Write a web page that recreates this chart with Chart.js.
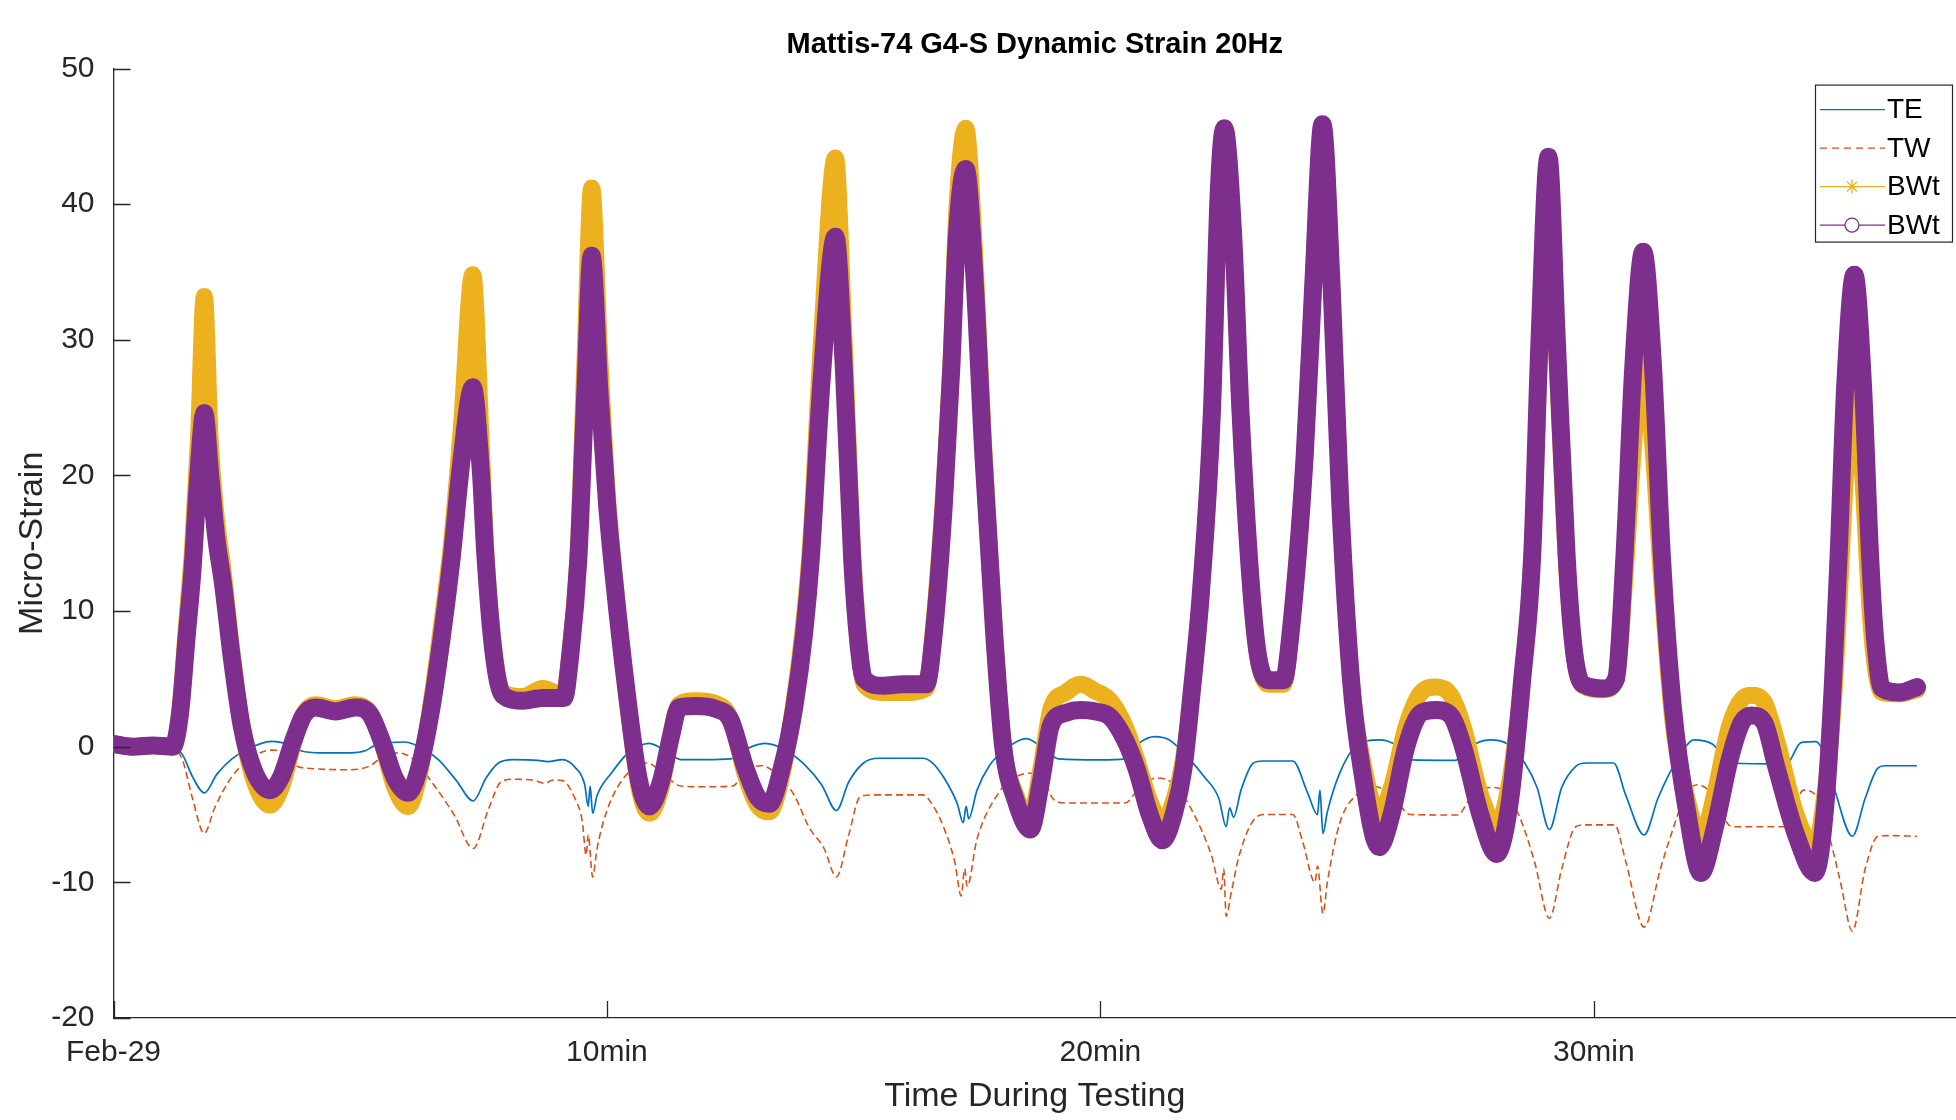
<!DOCTYPE html>
<html>
<head>
<meta charset="utf-8">
<title>Mattis-74 G4-S Dynamic Strain 20Hz</title>
<script src="https://cdn.jsdelivr.net/npm/chart.js@4.4.1/dist/chart.umd.min.js"></script>
<style>
    html, body { margin: 0; padding: 0; background: #fff; }
    #wrap { width: 1956px; height: 1120px; position: relative; }
</style>
</head>
<body>
<div id="wrap"><canvas id="strainChart"></canvas></div>
<script>
// --- datos (tiempo en minutos) ---
const xTickValues = [0, 10, 20, 30];
const xTickLabels = ['Feb-29', '10min', '20min', '30min'];
const seriesNames = ['TE', 'TW', 'BWt', 'BWt'];

const teTime = [0, 1.2, 1.4, 1.6, 1.84, 2.1, 2.4, 2.7, 3.2, 3.6, 3.8, 4.2, 4.8, 5.1, 5.3, 5.9, 6.3, 6.6, 6.95, 7.29,
    7.55, 7.8, 8.1, 8.6, 8.8, 9.1, 9.35, 9.55, 9.62, 9.66, 9.71, 9.8, 10.1, 10.42, 10.86, 11.3, 11.5, 12.0, 12.5, 12.8,
    13.2, 13.6, 14.0, 14.35, 14.65, 14.9, 15.2, 15.5, 16.4, 16.6, 16.85, 17.1, 17.22, 17.28, 17.33, 17.5, 17.75, 18.1, 18.5, 18.9,
    19.15, 20.0, 20.5, 20.8, 21.1, 21.4, 21.8, 22.1, 22.4, 22.55, 22.62, 22.7, 22.85, 23.1, 23.3, 23.9, 24.2, 24.4, 24.45, 24.51,
    24.6, 24.85, 25.2, 25.65, 26.0, 26.3, 27.2, 27.45, 27.9, 28.25, 28.6, 28.85, 29.1, 29.35, 29.63, 29.85, 30.4, 30.65, 31.02, 31.3,
    31.5, 31.75, 32.02, 32.4, 32.8, 33.9, 34.2, 34.5, 34.7, 34.9, 35.24, 35.5, 35.75, 35.9, 36.55];
const teVals = [0.0, 0.0, -0.6, -2.2, -3.4, -2.0, -0.9, -0.2, 0.4, 0.1, -0.3, -0.45, -0.45, -0.3, 0.1, 0.35, -0.2, -1.0, -2.5, -4.0,
    -2.3, -1.2, -0.95, -1.0, -1.1, -0.95, -1.5, -2.8, -4.4, -2.9, -4.9, -3.6, -1.9, -0.5, 0.25, -0.6, -0.95, -0.95, -0.9, -0.2,
    0.25, -0.2, -1.3, -2.8, -4.7, -2.6, -1.2, -0.85, -0.85, -1.2, -2.4, -4.2, -5.6, -4.4, -5.3, -3.2, -1.4, -0.1, 0.6, -0.3,
    -0.9, -0.97, -0.9, 0.3, 0.75, 0.5, -0.9, -2.2, -3.8, -5.9, -4.5, -5.2, -3.2, -1.2, -1.05, -1.05, -3.4, -5.0, -3.2, -6.4,
    -4.8, -1.95, 0.1, 0.5, 0.1, -0.97, -1.0, -0.1, 0.5, 0.2, -1.2, -3.0, -6.1, -3.0, -1.46, -1.2, -1.2, -3.6, -6.5, -3.8,
    -2.2, -0.6, 0.5, 0.2, -1.2, -1.27, 0.3, 0.38, -0.8, -3.4, -6.6, -3.8, -1.6, -1.4, -1.4];

const twTime = [0, 1.2, 1.4, 1.6, 1.84, 2.05, 2.4, 2.8, 3.2, 3.5, 3.7, 4.0, 4.8, 5.2, 5.5, 5.77, 6.1, 6.41, 6.9, 7.29,
    7.6, 7.85, 8.1, 8.5, 8.75, 8.9, 9.1, 9.35, 9.5, 9.58, 9.62, 9.71, 9.8, 10.0, 10.42, 10.82, 11.2, 11.5, 12.0, 12.55,
    12.8, 13.13, 13.5, 13.8, 14.09, 14.4, 14.65, 14.9, 15.13, 15.4, 16.4, 16.6, 16.82, 17.05, 17.18, 17.25, 17.3, 17.5, 17.94, 18.25,
    18.58, 18.85, 19.06, 19.3, 20.5, 20.8, 21.14, 21.5, 21.9, 22.25, 22.45, 22.5, 22.55, 22.65, 22.8, 23.07, 23.3, 23.9, 24.1, 24.35,
    24.4, 24.51, 24.6, 24.85, 25.2, 25.5, 25.9, 26.28, 27.24, 27.5, 27.9, 28.2, 28.5, 28.8, 29.1, 29.35, 29.63, 29.8, 30.42, 30.65,
    31.02, 31.35, 31.62, 31.85, 32.1, 32.4, 32.8, 33.9, 34.25, 34.5, 34.8, 35.0, 35.24, 35.5, 35.76, 36.0, 36.55];
const twVals = [-0.1, -0.1, -1.0, -3.8, -6.4, -4.5, -2.2, -0.8, -0.25, -0.5, -1.4, -1.6, -1.7, -1.4, -0.6, -0.45, -1.0, -2.4, -5.0, -7.5,
    -4.6, -2.6, -2.4, -2.45, -2.7, -2.45, -2.5, -3.8, -5.5, -8.0, -6.5, -9.6, -7.5, -4.7, -1.95, -1.2, -2.2, -2.9, -2.95, -2.9,
    -1.8, -1.4, -2.2, -3.6, -5.9, -7.5, -9.6, -6.5, -3.7, -3.55, -3.55, -4.3, -5.9, -8.5, -11.0, -9.0, -10.3, -6.8, -3.4, -2.3,
    -1.95, -2.6, -3.9, -4.15, -4.15, -3.0, -2.3, -2.8, -5.0, -8.0, -10.5, -9.0, -12.5, -10.8, -8.2, -5.6, -5.0, -5.0, -7.0, -10.0,
    -8.8, -12.3, -10.0, -5.64, -3.5, -2.9, -3.5, -5.0, -5.03, -3.8, -3.0, -3.3, -5.2, -8.5, -12.65, -9.0, -5.9, -5.76, -5.76, -8.5,
    -13.3, -9.0, -5.9, -3.6, -2.8, -3.5, -5.9, -5.9, -3.2, -3.6, -7.0, -10.0, -13.6, -9.0, -6.6, -6.55, -6.6];

const bwTime = [0, 0.4, 0.8, 1.2, 1.35, 1.48, 1.6, 1.72, 1.84, 1.96, 2.08, 2.22, 2.4, 2.6, 2.85, 3.17, 3.4, 3.65, 3.85, 4.1,
    4.5, 4.9, 5.2, 5.45, 5.7, 5.97, 6.2, 6.45, 6.65, 6.85, 7.05, 7.28, 7.45, 7.53, 7.7, 7.89, 8.3, 8.7, 9.13, 9.25,
    9.42, 9.55, 9.69, 9.85, 10.0, 10.14, 10.4, 10.65, 10.86, 11.1, 11.3, 11.46, 11.8, 12.2, 12.5, 12.8, 13.05, 13.29, 13.55, 13.8,
    14.0, 14.13, 14.35, 14.63, 14.8, 14.97, 15.1, 15.21, 15.6, 16.0, 16.47, 16.62, 16.83, 16.98, 17.09, 17.27, 17.45, 17.63, 17.85, 18.03,
    18.28, 18.58, 18.8, 19.0, 19.3, 19.6, 19.9, 20.2, 20.5, 20.74, 21.0, 21.26, 21.5, 21.68, 21.85, 22.04, 22.26, 22.4, 22.51, 22.69,
    22.84, 23.06, 23.2, 23.42, 23.71, 23.85, 24.14, 24.32, 24.5, 24.68, 24.86, 25.08, 25.3, 25.65, 25.9, 26.2, 26.5, 26.8, 27.1, 27.35,
    27.7, 28.03, 28.3, 28.55, 28.75, 28.9, 29.08, 29.25, 29.45, 29.6, 29.78, 30.2, 30.45, 30.62, 30.8, 31.0, 31.2, 31.38, 31.6, 31.9,
    32.17, 32.45, 32.75, 33.0, 33.2, 33.45, 33.7, 34.1, 34.48, 34.7, 34.85, 34.96, 35.1, 35.28, 35.45, 35.6, 35.7, 35.84, 36.2, 36.55];
// BWt (asteriscos, amarillo)
const bwtStar = [0.2, 0.0, 0.1, 0.0, 2.8, 9, 14.5, 22.5, 33.2, 22.5, 17, 13, 7, 1.5, -2.5, -4.3, -3, 0.3, 2.4, 3.1,
    2.8, 3.1, 2.5, 0.2, -3, -4.4, -2, 3.5, 9, 15, 23.5, 34.8, 22.5, 15.5, 7.5, 4, 3.7, 4.3, 3.8, 7,
    14.5, 28, 41.2, 29, 19, 13, 4, -3, -4.9, -3, 1, 3.1, 3.4, 3.2, 2.1, -2, -4.3, -4.8, -2, 3.5,
    9.5, 15, 30, 43.4, 30.5, 15, 8, 4.6, 4.0, 4.0, 4.3, 8.8, 19, 29, 39.5, 45.6, 36.5, 22.5, 8.5, 0.2,
    -3.5, -5.2, -1.5, 2.8, 4.0, 4.6, 4.1, 3.4, 1.5, -1, -4, -5.6, -3.8, -1, 4, 11.5, 24.5, 40.5, 45, 37.5,
    24.5, 11.5, 6.5, 4.6, 4.6, 8.2, 21.4, 34.5, 45.5, 34.5, 18.1, 4.9, -0.8, -5, -3, 1.5, 4, 4.4, 3.8, 1.5,
    -3.5, -5.8, -2.5, 5, 14, 29, 42.5, 29, 13.5, 7, 4.5, 4.2, 5, 12, 22, 29.5, 22, 12, 2, -4,
    -6.8, -3.5, 1.5, 3.5, 3.8, 3.3, 0.5, -5, -7.4, -3, 3, 10, 20, 28, 20, 10, 6, 4, 3.9, 4.2];
// BWt (círculos, morado)
const bwtCircle = [0.2, 0.0, 0.1, 0.0, 2.5, 8, 13, 20, 24.6, 20, 15.5, 12, 6.5, 1.5, -1.8, -3.2, -2.2, 0.5, 2.3, 2.9,
    2.6, 2.9, 2.4, 0.3, -2.3, -3.4, -1.5, 3, 8, 13.8, 21, 26.5, 20, 14.5, 7, 3.8, 3.4, 3.6, 3.6, 6.5,
    13.8, 25, 36.2, 26, 18, 12.5, 4, -2.5, -4.4, -2.5, 0.8, 2.9, 3.0, 2.8, 2.0, -1.5, -3.7, -4.2, -1.5, 3,
    8.5, 13.8, 27, 37.6, 28, 13.8, 7.5, 5.0, 4.5, 4.6, 4.6, 8.2, 18, 28, 37.5, 42.6, 34.5, 21.4, 8.2, 0,
    -3.9, -6.1, -2.5, 1.6, 2.5, 2.7, 2.6, 2.2, 0.5, -1.7, -5, -6.9, -4.8, -1.7, 4, 11.5, 24.7, 41, 45.6, 37.8,
    24.7, 11.5, 6.6, 4.9, 4.9, 8.2, 21.4, 34.5, 45.9, 34.5, 18.1, 4.9, -1.7, -7.4, -5, 0, 2.5, 2.7, 2.3, 0,
    -5, -7.9, -4, 5, 14, 30, 43.5, 30, 14, 7, 4.6, 4.3, 5, 14, 28, 36.5, 28, 14, 3, -5,
    -9.3, -6, -1, 1.8, 2.3, 1.8, -1.5, -6.5, -9.3, -4, 5, 14, 27, 34.8, 27, 14, 8, 4.3, 4.0, 4.4];

const colors = ['#0072BD', '#D95319', '#EDB120', '#7E2F8E'];
const axisColor = '#262626';

Chart.defaults.font.family = '"Liberation Sans", Arial, Helvetica, sans-serif';

function toPoints(times, vals) {
    return times.map((t, i) => ({ x: t, y: vals[i] }));
}

// marcas de los ejes hacia dentro (estilo MATLAB)
const innerTicks = {
    id: 'innerTicks',
    afterDatasetsDraw(chart) {
        const { ctx, chartArea, scales: { x, y } } = chart;
        ctx.save();
        ctx.strokeStyle = axisColor;
        ctx.lineWidth = 1.3;
        ctx.beginPath();
        y.ticks.forEach(t => {
            const py = Math.round(y.getPixelForValue(t.value)) + 0.5;
            ctx.moveTo(chartArea.left, py);
            ctx.lineTo(chartArea.left + 17, py);
        });
        x.ticks.forEach(t => {
            const px = Math.round(x.getPixelForValue(t.value)) + 0.5;
            ctx.moveTo(px, chartArea.bottom);
            ctx.lineTo(px, chartArea.bottom - 17);
        });
        ctx.stroke();
        ctx.restore();
    }
};

// leyenda con recuadro dentro del área del gráfico
const boxLegend = {
    id: 'boxLegend',
    afterDraw(chart) {
        const { ctx, chartArea } = chart;
        const w = 137, h = 157;
        const left = chartArea.right - w - 4;
        const top = chartArea.top + 16;
        ctx.save();
        ctx.fillStyle = '#fff';
        ctx.fillRect(left, top, w, h);
        ctx.strokeStyle = axisColor;
        ctx.lineWidth = 1.2;
        ctx.strokeRect(left + 0.5, top + 0.5, w, h);
        ctx.font = '28px "Liberation Sans", Arial, sans-serif';
        ctx.textBaseline = 'middle';
        seriesNames.forEach((name, i) => {
            const cy = top + 25 + i * 38.5;
            const x0 = left + 5, x1 = left + 70, mx = left + 37;
            ctx.strokeStyle = colors[i];
            ctx.lineWidth = 1.3;
            ctx.setLineDash(i === 1 ? [7, 5] : []);
            ctx.beginPath();
            ctx.moveTo(x0, cy);
            ctx.lineTo(x1, cy);
            ctx.stroke();
            ctx.setLineDash([]);
            if (i === 2) {
                ctx.beginPath();
                for (let k = 0; k < 4; k++) {
                    const a = k * Math.PI / 4;
                    ctx.moveTo(mx - 7 * Math.cos(a), cy - 7 * Math.sin(a));
                    ctx.lineTo(mx + 7 * Math.cos(a), cy + 7 * Math.sin(a));
                }
                ctx.stroke();
            } else if (i === 3) {
                ctx.beginPath();
                ctx.arc(mx, cy, 7, 0, Math.PI * 2);
                ctx.fillStyle = '#fff';
                ctx.fill();
                ctx.stroke();
            }
            ctx.fillStyle = '#000';
            ctx.fillText(name, left + 72, cy + 1);
        });
        ctx.restore();
    }
};

const ctx = document.getElementById('strainChart');

new Chart(ctx, {
    type: 'line',
    data: {
        datasets: [
            {
                label: seriesNames[0],
                data: toPoints(teTime, teVals),
                borderColor: colors[0],
                borderWidth: 1.7,
                pointRadius: 0,
                cubicInterpolationMode: 'monotone',
                order: 4
            },
            {
                label: seriesNames[1],
                data: toPoints(twTime, twVals),
                borderColor: colors[1],
                borderWidth: 1.6,
                borderDash: [7, 4],
                pointRadius: 0,
                cubicInterpolationMode: 'monotone',
                order: 3
            },
            {
                label: seriesNames[2],
                data: toPoints(bwTime, bwtStar),
                borderColor: colors[2],
                borderWidth: 17,
                borderJoinStyle: 'round',
                borderCapStyle: 'round',
                pointRadius: 0,
                cubicInterpolationMode: 'monotone',
                order: 2
            },
            {
                label: seriesNames[3],
                data: toPoints(bwTime, bwtCircle),
                borderColor: colors[3],
                borderWidth: 18,
                borderJoinStyle: 'round',
                borderCapStyle: 'round',
                pointRadius: 0,
                cubicInterpolationMode: 'monotone',
                order: 1
            }
        ]
    },
    options: {
        responsive: true,
        maintainAspectRatio: false,
        animation: false,
        layout: { padding: 0 },
        plugins: {
            legend: { display: false },
            tooltip: { enabled: false },
            title: {
                display: true,
                text: 'Mattis-74 G4-S Dynamic Strain 20Hz',
                fullSize: false,
                color: '#000',
                font: { size: 29, weight: 'bold' },
                padding: { top: 28, bottom: 5.8 }
            }
        },
        scales: {
            x: {
                type: 'linear',
                min: 0,
                max: 37.34,
                afterBuildTicks(axis) { axis.ticks = xTickValues.map(v => ({ value: v })); },
                afterFit(axis) { axis.height = 102; },
                ticks: {
                    autoSkip: false,
                    maxRotation: 0,
                    padding: 9,
                    color: axisColor,
                    font: { size: 30 },
                    callback: (value, index) => xTickLabels[index]
                },
                grid: { display: false },
                border: { display: true, color: axisColor, width: 1.3 },
                title: {
                    display: true,
                    text: 'Time During Testing',
                    color: axisColor,
                    font: { size: 34 },
                    padding: { top: 0, bottom: 2.5 }
                }
            },
            y: {
                min: -20,
                max: 50,
                afterFit(axis) { axis.width = 113.5; },
                ticks: {
                    stepSize: 10,
                    padding: 11,
                    color: axisColor,
                    font: { size: 30 }
                },
                grid: { display: false },
                border: { display: true, color: axisColor, width: 1.3 },
                title: {
                    display: true,
                    text: 'Micro-Strain',
                    color: axisColor,
                    font: { size: 34 },
                    padding: { top: 12, bottom: 0 }
                }
            }
        }
    },
    plugins: [innerTicks, boxLegend]
});
</script>
</body>
</html>
